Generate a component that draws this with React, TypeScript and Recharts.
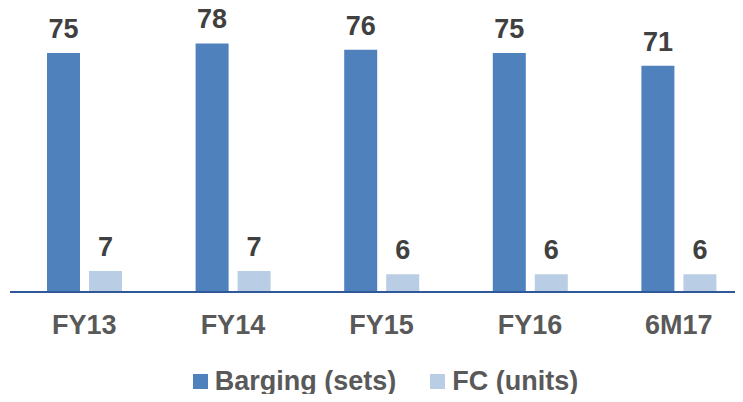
import { BarChart, Bar, XAxis, YAxis, LabelList, Legend } from "recharts";

const categories = ["FY13", "FY14", "FY15", "FY16", "6M17"];
const barging = [75, 78, 76, 75, 71];
const fc = [6.6, 6.6, 5.6, 5.6, 5.6];

const data = categories.map((c, i) => ({ cat: c, barging: barging[i], fc: fc[i] }));

const FONT = '"Liberation Sans", Arial, sans-serif';
const DARK = "#4F81BD";
const LIGHT = "#B9CDE5";

const renderLegend = () => (
  <div style={{ display: "flex", justifyContent: "center", alignItems: "center", height: 30, fontFamily: FONT, fontWeight: 700, fontSize: 27, color: "#595959", paddingLeft: 8 }}>
    <span style={{ width: 15, height: 15, background: DARK, display: "inline-block", marginRight: 7 }} />
    <span style={{ marginRight: 34 }}>Barging (sets)</span>
    <span style={{ width: 15, height: 15, background: LIGHT, display: "inline-block", marginRight: 7 }} />
    <span>FC (units)</span>
  </div>
);

export default function App() {
  return (
    <div style={{ width: 743, height: 402, overflow: "hidden", margin: -8, position: "relative", background: "#fff" }}>
      <BarChart
        width={760}
        height={402}
        data={data}
        margin={{ top: 37, right: 7, left: 10, bottom: 6 }}
        barSize={33}
        barGap={9}
      >
        <XAxis
          dataKey="cat"
          axisLine={{ stroke: "#2E5897", strokeWidth: 2 }}
          tickLine={false}
          height={74}
          tickMargin={17}
          tick={{ fill: "#595959", fontSize: 27, fontWeight: 700, fontFamily: FONT }}
        />
        <YAxis hide domain={[0, 80]} />
        <Bar dataKey="barging" fill={DARK} isAnimationActive={false}>
          <LabelList dataKey="barging" position="top" offset={15} fill="#404040" fontSize={27} fontWeight={700} fontFamily={FONT} />
        </Bar>
        <Bar dataKey="fc" fill={LIGHT} isAnimationActive={false}>
          <LabelList dataKey="fc" position="top" offset={15} fill="#404040" fontSize={27} fontWeight={700} fontFamily={FONT} formatter={(v: number) => Math.round(v)} />
        </Bar>
        <Legend verticalAlign="bottom" content={renderLegend} />
      </BarChart>
    </div>
  );
}
